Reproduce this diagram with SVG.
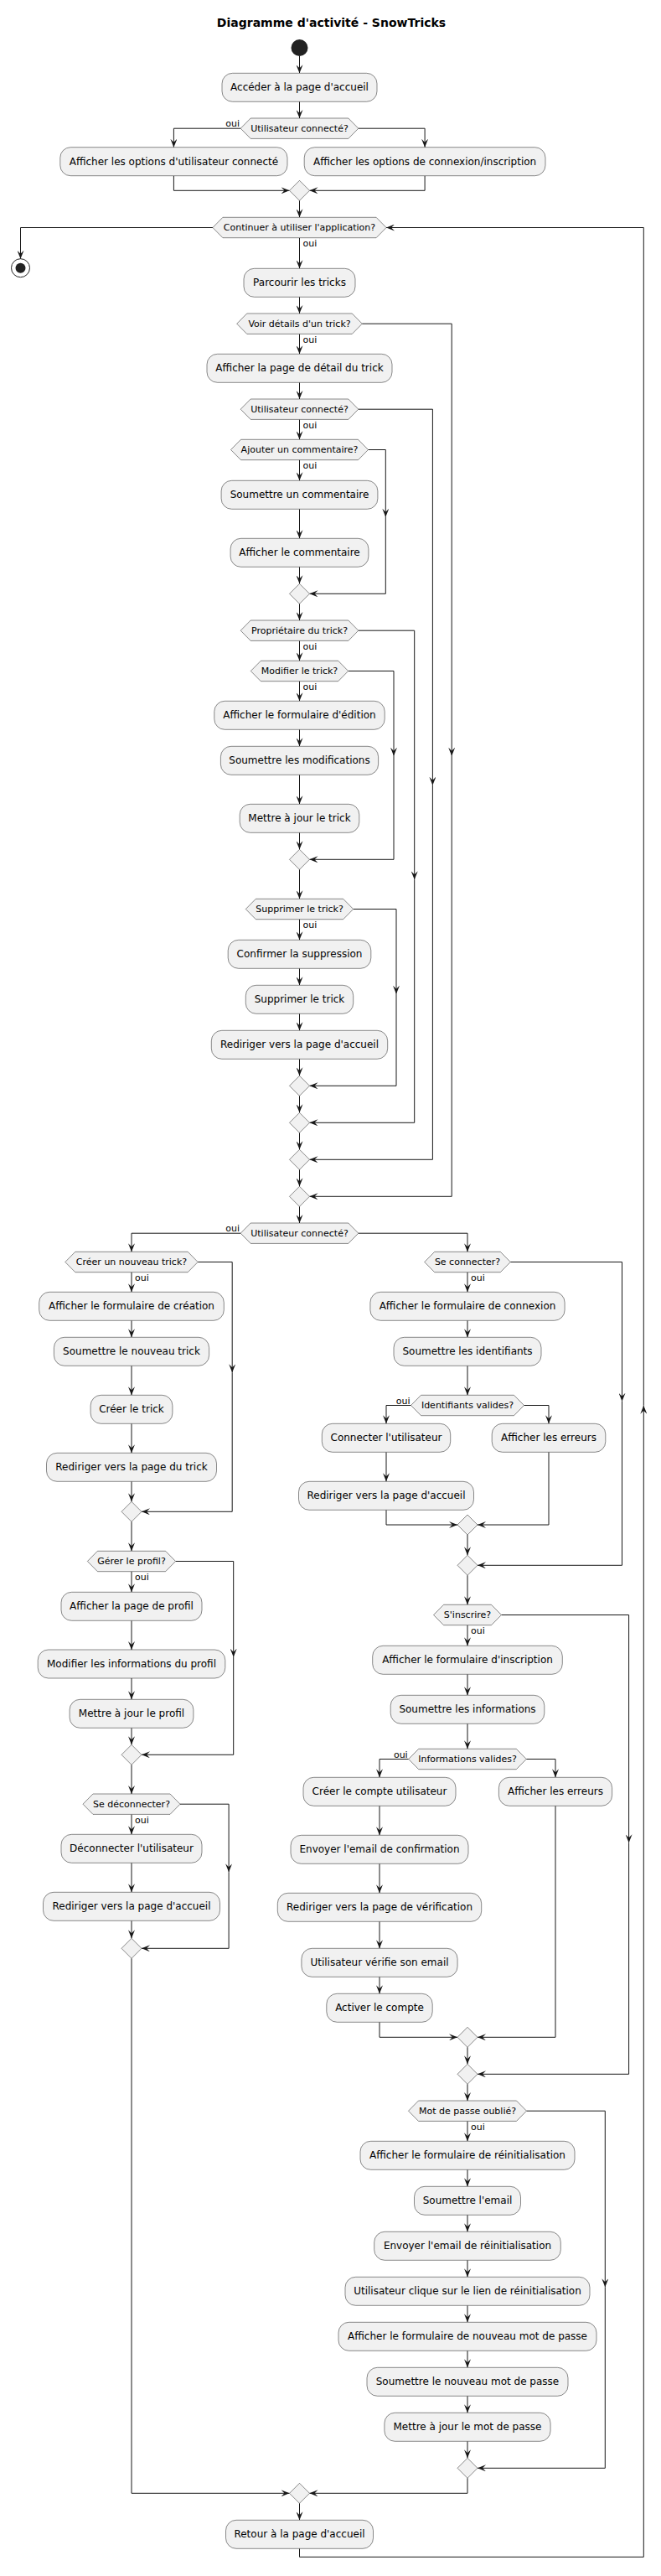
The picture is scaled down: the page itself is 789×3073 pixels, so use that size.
<svg xmlns="http://www.w3.org/2000/svg" width="789" height="3073" viewBox="0 0 789 3073">
<style>
.b{fill:#F1F1F1;stroke:#181818;stroke-width:0.5}
.t{font-family:"DejaVu Sans",sans-serif;font-size:12px;fill:#000;text-anchor:middle}
.h{font-family:"DejaVu Sans",sans-serif;font-size:11px;fill:#000;text-anchor:middle}
.o{font-family:"DejaVu Sans",sans-serif;font-size:11px;fill:#000}
.oe{font-family:"DejaVu Sans",sans-serif;font-size:11px;fill:#000;text-anchor:end}
.e{fill:none;stroke:#181818;stroke-width:1}
.a{marker-end:url(#ah)}
</style>
<defs>
<marker id="ah" viewBox="0 0 10 8" refX="10" refY="4" markerWidth="10" markerHeight="8" markerUnits="userSpaceOnUse" orient="auto">
<path d="M0,0 L10,4 L0,8 L4,4 Z" fill="#181818"/>
</marker>
</defs>
<rect width="789" height="3073" fill="#FFFFFF"/>
<text x="395.5" y="32" style="font-family:'DejaVu Sans',sans-serif;font-size:14px;font-weight:bold;text-anchor:middle">Diagramme d'activité - SnowTricks</text>

<g id="connectors">
<path class="e a" d="M357.5,67 V87.3"/>
<path class="e a" d="M357.5,121.3 V141"/>
<path class="e a" d="M287.2,153.2 H207.4 V175.7"/>
<path class="e a" d="M427.8,153.2 H507.1 V175.7"/>
<path class="e a" d="M207.4,209.7 V227.3 H345.5"/>
<path class="e a" d="M507.1,209.7 V227.3 H369.5"/>
<path class="e a" d="M357.5,239.3 V259.3"/>
<path class="e a" d="M253.9,271.5 H24.5 V308.7"/>
<path class="e a" d="M357.5,283.7 V320.3"/>
<path class="e a" d="M357.5,354.3 V374"/>
<path class="e a" d="M432.3,386.2 H539.2 V901.7"/>
<path class="e a" d="M539.2,901.7 V1427.3 H369.5"/>
<path class="e a" d="M357.5,398.4 V422.3"/>
<path class="e a" d="M357.5,456.3 V476"/>
<path class="e a" d="M427.8,488.2 H516.4 V936.7"/>
<path class="e a" d="M516.4,936.7 V1383.3 H369.5"/>
<path class="e a" d="M357.5,500.4 V524.3"/>
<path class="e a" d="M439.5,536.5 H460.3 V616.7"/>
<path class="e a" d="M460.3,616.7 V708.3 H369.5"/>
<path class="e a" d="M357.5,548.7 V573.3"/>
<path class="e a" d="M357.5,607.3 V642.3"/>
<path class="e a" d="M357.5,676.3 V696.3"/>
<path class="e a" d="M357.5,720.3 V740"/>
<path class="e a" d="M427.8,752.2 H494.7 V1049.3"/>
<path class="e a" d="M494.7,1049.3 V1339.3 H369.5"/>
<path class="e a" d="M357.5,764.4 V788.3"/>
<path class="e a" d="M415.7,800.5 H470 V901.7"/>
<path class="e a" d="M470,901.7 V1025.3 H369.5"/>
<path class="e a" d="M357.5,812.7 V836.3"/>
<path class="e a" d="M357.5,870.3 V890.3"/>
<path class="e a" d="M357.5,924.3 V959.3"/>
<path class="e a" d="M357.5,993.3 V1013.3"/>
<path class="e a" d="M357.5,1037.3 V1072.3"/>
<path class="e a" d="M421.7,1084.5 H473 V1185.7"/>
<path class="e a" d="M473,1185.7 V1295.3 H369.5"/>
<path class="e a" d="M357.5,1096.7 V1121.3"/>
<path class="e a" d="M357.5,1155.3 V1175.3"/>
<path class="e a" d="M357.5,1209.3 V1229.3"/>
<path class="e a" d="M357.5,1263.3 V1283.3"/>
<path class="e a" d="M357.5,1307.3 V1327.3"/>
<path class="e a" d="M357.5,1351.3 V1371.3"/>
<path class="e a" d="M357.5,1395.3 V1415.3"/>
<path class="e a" d="M357.5,1439.3 V1459"/>
<path class="e a" d="M287.2,1471.2 H157 V1493.3"/>
<path class="e a" d="M427.8,1471.2 H558 V1493.3"/>
<path class="e a" d="M157,1517.7 V1541.3"/>
<path class="e a" d="M236.2,1505.5 H277.2 V1637.3"/>
<path class="e a" d="M277.2,1637.3 V1803.3 H169"/>
<path class="e a" d="M157,1575.3 V1595.3"/>
<path class="e a" d="M157,1629.3 V1664.3"/>
<path class="e a" d="M157,1698.3 V1733.3"/>
<path class="e a" d="M157,1767.3 V1791.3"/>
<path class="e a" d="M157,1815.3 V1850.3"/>
<path class="e a" d="M209.6,1862.5 H278.7 V1976.7"/>
<path class="e a" d="M278.7,1976.7 V2093.3 H169"/>
<path class="e a" d="M157,1874.7 V1899.3"/>
<path class="e a" d="M157,1933.3 V1968"/>
<path class="e a" d="M157,2002 V2027.3"/>
<path class="e a" d="M157,2061.3 V2081.3"/>
<path class="e a" d="M157,2105.3 V2140"/>
<path class="e a" d="M215,2152.2 H273.1 V2233.3"/>
<path class="e a" d="M273.1,2233.3 V2324.3 H169"/>
<path class="e a" d="M157,2164.4 V2188.3"/>
<path class="e a" d="M157,2222.3 V2257.3"/>
<path class="e a" d="M157,2291.3 V2312.3"/>
<path class="e a" d="M157,2336.3 V2974.3 H345.5"/>
<path class="e a" d="M558,1517.7 V1541.3"/>
<path class="e a" d="M609.3,1505.5 H742.5 V1671.7"/>
<path class="e a" d="M742.5,1671.7 V1867.3 H570"/>
<path class="e a" d="M558,1575.3 V1595.3"/>
<path class="e a" d="M558,1629.3 V1664.3"/>
<path class="e a" d="M490.5,1676.5 H461 V1698.3"/>
<path class="e a" d="M625.5,1676.5 H655 V1698.3"/>
<path class="e a" d="M461,1732.3 V1767.3"/>
<path class="e a" d="M461,1801.3 V1819 H546"/>
<path class="e a" d="M655,1732.3 V1819 H570"/>
<path class="e a" d="M558,1831 V1855.3"/>
<path class="e a" d="M558,1879.3 V1914.3"/>
<path class="e a" d="M598.5,1926.5 H750.6 V2198.3"/>
<path class="e a" d="M750.6,2198.3 V2474.3 H570"/>
<path class="e a" d="M558,1938.7 V1963.3"/>
<path class="e a" d="M558,1997.3 V2022.3"/>
<path class="e a" d="M558,2056.3 V2086.3"/>
<path class="e a" d="M487.7,2098.5 H453 V2120.3"/>
<path class="e a" d="M628.3,2098.5 H663 V2120.3"/>
<path class="e a" d="M453,2154.3 V2189.3"/>
<path class="e a" d="M453,2223.3 V2258.3"/>
<path class="e a" d="M453,2292.3 V2324.3"/>
<path class="e a" d="M453,2358.3 V2378.3"/>
<path class="e a" d="M453,2412.3 V2430.3 H546"/>
<path class="e a" d="M663,2154.3 V2430.3 H570"/>
<path class="e a" d="M558,2442.3 V2462.3"/>
<path class="e a" d="M558,2486.3 V2506"/>
<path class="e a" d="M628.5,2518.2 H722.3 V2728.3"/>
<path class="e a" d="M722.3,2728.3 V2944.3 H570"/>
<path class="e a" d="M558,2530.4 V2554.3"/>
<path class="e a" d="M558,2588.3 V2608.3"/>
<path class="e a" d="M558,2642.3 V2662.3"/>
<path class="e a" d="M558,2696.3 V2716.3"/>
<path class="e a" d="M558,2750.3 V2770.3"/>
<path class="e a" d="M558,2804.3 V2824.3"/>
<path class="e a" d="M558,2858.3 V2878.3"/>
<path class="e a" d="M558,2912.3 V2932.3"/>
<path class="e a" d="M558,2956.3 V2974.3 H369.5"/>
<path class="e a" d="M357.5,2986.3 V3006.3"/>
<path class="e a" d="M357.5,3040.3 V3050.3 H768.3 V1676.7"/>
<path class="e a" d="M768.3,1676.7 V271.5 H461.1"/>
<text class="oe" x="286" y="151.2">oui</text>
<text class="o" x="361.5" y="294.2">oui</text>
<text class="o" x="361.5" y="408.9">oui</text>
<text class="o" x="361.5" y="510.9">oui</text>
<text class="o" x="361.5" y="559.2">oui</text>
<text class="o" x="361.5" y="774.9">oui</text>
<text class="o" x="361.5" y="823.2">oui</text>
<text class="o" x="361.5" y="1107.2">oui</text>
<text class="oe" x="286" y="1469.2">oui</text>
<text class="o" x="161" y="1528.2">oui</text>
<text class="o" x="562" y="1528.2">oui</text>
<text class="oe" x="489.5" y="1674.5">oui</text>
<text class="o" x="161" y="1885.2">oui</text>
<text class="o" x="562" y="1949.2">oui</text>
<text class="o" x="161" y="2174.9">oui</text>
<text class="oe" x="486.7" y="2096.5">oui</text>
<text class="o" x="562" y="2540.9">oui</text>
</g>

<g id="start"><circle cx="357.5" cy="57" r="10" fill="#222222"/></g>
<g id="end"><circle cx="24.5" cy="319.7" r="11" fill="none" stroke="#222222" stroke-width="1"/><circle cx="24.5" cy="319.7" r="6" fill="#222222"/></g>

<g id="a1"><rect class="b" x="265" y="87.3" width="185" height="34" rx="12.5"/><text class="t" x="357.5" y="108.3">Accéder à la page d'accueil</text></g>
<g id="d1"><polygon class="b" points="287.2,153.2 299.2,141 415.8,141 427.8,153.2 415.8,165.4 299.2,165.4"/><text class="h" x="357.5" y="157">Utilisateur connecté?</text></g>
<g id="a2"><rect class="b" x="71.8" y="175.7" width="271.2" height="34" rx="12.5"/><text class="t" x="207.4" y="196.7">Afficher les options d'utilisateur connecté</text></g>
<g id="a3"><rect class="b" x="363.2" y="175.7" width="287.8" height="34" rx="12.5"/><text class="t" x="507.1" y="196.7">Afficher les options de connexion/inscription</text></g>
<g id="m1"><polygon class="b" points="357.5,215.3 369.5,227.3 357.5,239.3 345.5,227.3"/></g>
<g id="d2"><polygon class="b" points="253.9,271.5 265.9,259.3 449.1,259.3 461.1,271.5 449.1,283.7 265.9,283.7"/><text class="h" x="357.5" y="275.3">Continuer à utiliser l'application?</text></g>
<g id="a4"><rect class="b" x="291" y="320.3" width="133" height="34" rx="12.5"/><text class="t" x="357.5" y="341.3">Parcourir les tricks</text></g>
<g id="d3"><polygon class="b" points="282.7,386.2 294.7,374 420.3,374 432.3,386.2 420.3,398.4 294.7,398.4"/><text class="h" x="357.5" y="390">Voir détails d'un trick?</text></g>
<g id="a5"><rect class="b" x="247" y="422.3" width="221" height="34" rx="12.5"/><text class="t" x="357.5" y="443.3">Afficher la page de détail du trick</text></g>
<g id="d4"><polygon class="b" points="287.2,488.2 299.2,476 415.8,476 427.8,488.2 415.8,500.4 299.2,500.4"/><text class="h" x="357.5" y="492">Utilisateur connecté?</text></g>
<g id="d5"><polygon class="b" points="275.5,536.5 287.5,524.3 427.5,524.3 439.5,536.5 427.5,548.7 287.5,548.7"/><text class="h" x="357.5" y="540.3">Ajouter un commentaire?</text></g>
<g id="a6"><rect class="b" x="264.1" y="573.3" width="186.8" height="34" rx="12.5"/><text class="t" x="357.5" y="594.3">Soumettre un commentaire</text></g>
<g id="a7"><rect class="b" x="275.1" y="642.3" width="164.8" height="34" rx="12.5"/><text class="t" x="357.5" y="663.3">Afficher le commentaire</text></g>
<g id="m2"><polygon class="b" points="357.5,696.3 369.5,708.3 357.5,720.3 345.5,708.3"/></g>
<g id="d6"><polygon class="b" points="287.2,752.2 299.2,740 415.8,740 427.8,752.2 415.8,764.4 299.2,764.4"/><text class="h" x="357.5" y="756">Propriétaire du trick?</text></g>
<g id="d7"><polygon class="b" points="299.3,800.5 311.3,788.3 403.7,788.3 415.7,800.5 403.7,812.7 311.3,812.7"/><text class="h" x="357.5" y="804.3">Modifier le trick?</text></g>
<g id="a8"><rect class="b" x="255.8" y="836.3" width="203.4" height="34" rx="12.5"/><text class="t" x="357.5" y="857.3">Afficher le formulaire d'édition</text></g>
<g id="a9"><rect class="b" x="263.4" y="890.3" width="188.2" height="34" rx="12.5"/><text class="t" x="357.5" y="911.3">Soumettre les modifications</text></g>
<g id="a10"><rect class="b" x="286.2" y="959.3" width="142.6" height="34" rx="12.5"/><text class="t" x="357.5" y="980.3">Mettre à jour le trick</text></g>
<g id="m3"><polygon class="b" points="357.5,1013.3 369.5,1025.3 357.5,1037.3 345.5,1025.3"/></g>
<g id="d8"><polygon class="b" points="293.3,1084.5 305.3,1072.3 409.7,1072.3 421.7,1084.5 409.7,1096.7 305.3,1096.7"/><text class="h" x="357.5" y="1088.3">Supprimer le trick?</text></g>
<g id="a11"><rect class="b" x="272.2" y="1121.3" width="170.6" height="34" rx="12.5"/><text class="t" x="357.5" y="1142.3">Confirmer la suppression</text></g>
<g id="a12"><rect class="b" x="293.3" y="1175.3" width="128.4" height="34" rx="12.5"/><text class="t" x="357.5" y="1196.3">Supprimer le trick</text></g>
<g id="a13"><rect class="b" x="252.3" y="1229.3" width="210.4" height="34" rx="12.5"/><text class="t" x="357.5" y="1250.3">Rediriger vers la page d'accueil</text></g>
<g id="m4"><polygon class="b" points="357.5,1283.3 369.5,1295.3 357.5,1307.3 345.5,1295.3"/></g>
<g id="m5"><polygon class="b" points="357.5,1327.3 369.5,1339.3 357.5,1351.3 345.5,1339.3"/></g>
<g id="m6"><polygon class="b" points="357.5,1371.3 369.5,1383.3 357.5,1395.3 345.5,1383.3"/></g>
<g id="m7"><polygon class="b" points="357.5,1415.3 369.5,1427.3 357.5,1439.3 345.5,1427.3"/></g>
<g id="d9"><polygon class="b" points="287.2,1471.2 299.2,1459 415.8,1459 427.8,1471.2 415.8,1483.4 299.2,1483.4"/><text class="h" x="357.5" y="1475">Utilisateur connecté?</text></g>

<g id="d10"><polygon class="b" points="77.8,1505.5 89.8,1493.3 224.2,1493.3 236.2,1505.5 224.2,1517.7 89.8,1517.7"/><text class="h" x="157" y="1509.3">Créer un nouveau trick?</text></g>
<g id="a14"><rect class="b" x="46.7" y="1541.3" width="220.6" height="34" rx="12.5"/><text class="t" x="157" y="1562.3">Afficher le formulaire de création</text></g>
<g id="a15"><rect class="b" x="64.4" y="1595.3" width="185.2" height="34" rx="12.5"/><text class="t" x="157" y="1616.3">Soumettre le nouveau trick</text></g>
<g id="a16"><rect class="b" x="108.1" y="1664.3" width="97.8" height="34" rx="12.5"/><text class="t" x="157" y="1685.3">Créer le trick</text></g>
<g id="a17"><rect class="b" x="55.5" y="1733.3" width="203" height="34" rx="12.5"/><text class="t" x="157" y="1754.3">Rediriger vers la page du trick</text></g>
<g id="m8"><polygon class="b" points="157,1791.3 169,1803.3 157,1815.3 145,1803.3"/></g>
<g id="d11"><polygon class="b" points="104.4,1862.5 116.4,1850.3 197.6,1850.3 209.6,1862.5 197.6,1874.7 116.4,1874.7"/><text class="h" x="157" y="1866.3">Gérer le profil?</text></g>
<g id="a18"><rect class="b" x="73" y="1899.3" width="168" height="34" rx="12.5"/><text class="t" x="157" y="1920.3">Afficher la page de profil</text></g>
<g id="a19"><rect class="b" x="45.2" y="1968" width="223.6" height="34" rx="12.5"/><text class="t" x="157" y="1989">Modifier les informations du profil</text></g>
<g id="a20"><rect class="b" x="83.1" y="2027.3" width="147.8" height="34" rx="12.5"/><text class="t" x="157" y="2048.3">Mettre à jour le profil</text></g>
<g id="m9"><polygon class="b" points="157,2081.3 169,2093.3 157,2105.3 145,2093.3"/></g>
<g id="d12"><polygon class="b" points="99,2152.2 111,2140 203,2140 215,2152.2 203,2164.4 111,2164.4"/><text class="h" x="157" y="2156">Se déconnecter?</text></g>
<g id="a21"><rect class="b" x="73" y="2188.3" width="168" height="34" rx="12.5"/><text class="t" x="157" y="2209.3">Déconnecter l'utilisateur</text></g>
<g id="a22"><rect class="b" x="51.5" y="2257.3" width="211" height="34" rx="12.5"/><text class="t" x="157" y="2278.3">Rediriger vers la page d'accueil</text></g>
<g id="m10"><polygon class="b" points="157,2312.3 169,2324.3 157,2336.3 145,2324.3"/></g>

<g id="d13"><polygon class="b" points="506.7,1505.5 518.7,1493.3 597.3,1493.3 609.3,1505.5 597.3,1517.7 518.7,1517.7"/><text class="h" x="558" y="1509.3">Se connecter?</text></g>
<g id="a23"><rect class="b" x="441.9" y="1541.3" width="232.2" height="34" rx="12.5"/><text class="t" x="558" y="1562.3">Afficher le formulaire de connexion</text></g>
<g id="a24"><rect class="b" x="470" y="1595.3" width="176" height="34" rx="12.5"/><text class="t" x="558" y="1616.3">Soumettre les identifiants</text></g>
<g id="d14"><polygon class="b" points="490.5,1676.5 502.5,1664.3 613.5,1664.3 625.5,1676.5 613.5,1688.7 502.5,1688.7"/><text class="h" x="558" y="1680.3">Identifiants valides?</text></g>
<g id="a25"><rect class="b" x="384.3" y="1698.3" width="153.4" height="34" rx="12.5"/><text class="t" x="461" y="1719.3">Connecter l'utilisateur</text></g>
<g id="a26"><rect class="b" x="587.2" y="1698.3" width="135.6" height="34" rx="12.5"/><text class="t" x="655" y="1719.3">Afficher les erreurs</text></g>
<g id="a27"><rect class="b" x="356.5" y="1767.3" width="209" height="34" rx="12.5"/><text class="t" x="461" y="1788.3">Rediriger vers la page d'accueil</text></g>
<g id="m11"><polygon class="b" points="558,1807 570,1819 558,1831 546,1819"/></g>
<g id="m12"><polygon class="b" points="558,1855.3 570,1867.3 558,1879.3 546,1867.3"/></g>
<g id="d15"><polygon class="b" points="517.5,1926.5 529.5,1914.3 586.5,1914.3 598.5,1926.5 586.5,1938.7 529.5,1938.7"/><text class="h" x="558" y="1930.3">S'inscrire?</text></g>
<g id="a28"><rect class="b" x="444.7" y="1963.3" width="226.6" height="34" rx="12.5"/><text class="t" x="558" y="1984.3">Afficher le formulaire d'inscription</text></g>
<g id="a29"><rect class="b" x="466.2" y="2022.3" width="183.6" height="34" rx="12.5"/><text class="t" x="558" y="2043.3">Soumettre les informations</text></g>
<g id="d16"><polygon class="b" points="487.7,2098.5 499.7,2086.3 616.3,2086.3 628.3,2098.5 616.3,2110.7 499.7,2110.7"/><text class="h" x="558" y="2102.3">Informations valides?</text></g>
<g id="a30"><rect class="b" x="362" y="2120.3" width="182" height="34" rx="12.5"/><text class="t" x="453" y="2141.3">Créer le compte utilisateur</text></g>
<g id="a31"><rect class="b" x="595.4" y="2120.3" width="135.2" height="34" rx="12.5"/><text class="t" x="663" y="2141.3">Afficher les erreurs</text></g>
<g id="a32"><rect class="b" x="347" y="2189.3" width="212" height="34" rx="12.5"/><text class="t" x="453" y="2210.3">Envoyer l'email de confirmation</text></g>
<g id="a33"><rect class="b" x="331.3" y="2258.3" width="243.4" height="34" rx="12.5"/><text class="t" x="453" y="2279.3">Rediriger vers la page de vérification</text></g>
<g id="a34"><rect class="b" x="359.9" y="2324.3" width="186.2" height="34" rx="12.5"/><text class="t" x="453" y="2345.3">Utilisateur vérifie son email</text></g>
<g id="a35"><rect class="b" x="389.8" y="2378.3" width="126.4" height="34" rx="12.5"/><text class="t" x="453" y="2399.3">Activer le compte</text></g>
<g id="m13"><polygon class="b" points="558,2418.3 570,2430.3 558,2442.3 546,2430.3"/></g>
<g id="m14"><polygon class="b" points="558,2462.3 570,2474.3 558,2486.3 546,2474.3"/></g>
<g id="d17"><polygon class="b" points="487.5,2518.2 499.5,2506 616.5,2506 628.5,2518.2 616.5,2530.4 499.5,2530.4"/><text class="h" x="558" y="2522">Mot de passe oublié?</text></g>
<g id="a36"><rect class="b" x="430" y="2554.3" width="256" height="34" rx="12.5"/><text class="t" x="558" y="2575.3">Afficher le formulaire de réinitialisation</text></g>
<g id="a37"><rect class="b" x="494.5" y="2608.3" width="127" height="34" rx="12.5"/><text class="t" x="558" y="2629.3">Soumettre l'email</text></g>
<g id="a38"><rect class="b" x="446.7" y="2662.3" width="222.6" height="34" rx="12.5"/><text class="t" x="558" y="2683.3">Envoyer l'email de réinitialisation</text></g>
<g id="a39"><rect class="b" x="412" y="2716.3" width="292" height="34" rx="12.5"/><text class="t" x="558" y="2737.3">Utilisateur clique sur le lien de réinitialisation</text></g>
<g id="a40"><rect class="b" x="404" y="2770.3" width="308" height="34" rx="12.5"/><text class="t" x="558" y="2791.3">Afficher le formulaire de nouveau mot de passe</text></g>
<g id="a41"><rect class="b" x="438" y="2824.3" width="240" height="34" rx="12.5"/><text class="t" x="558" y="2845.3">Soumettre le nouveau mot de passe</text></g>
<g id="a42"><rect class="b" x="458.9" y="2878.3" width="198.2" height="34" rx="12.5"/><text class="t" x="558" y="2899.3">Mettre à jour le mot de passe</text></g>
<g id="m15"><polygon class="b" points="558,2932.3 570,2944.3 558,2956.3 546,2944.3"/></g>

<g id="m16"><polygon class="b" points="357.5,2962.3 369.5,2974.3 357.5,2986.3 345.5,2974.3"/></g>
<g id="a43"><rect class="b" x="269.5" y="3006.3" width="176" height="34" rx="12.5"/><text class="t" x="357.5" y="3027.3">Retour à la page d'accueil</text></g>
</svg>
